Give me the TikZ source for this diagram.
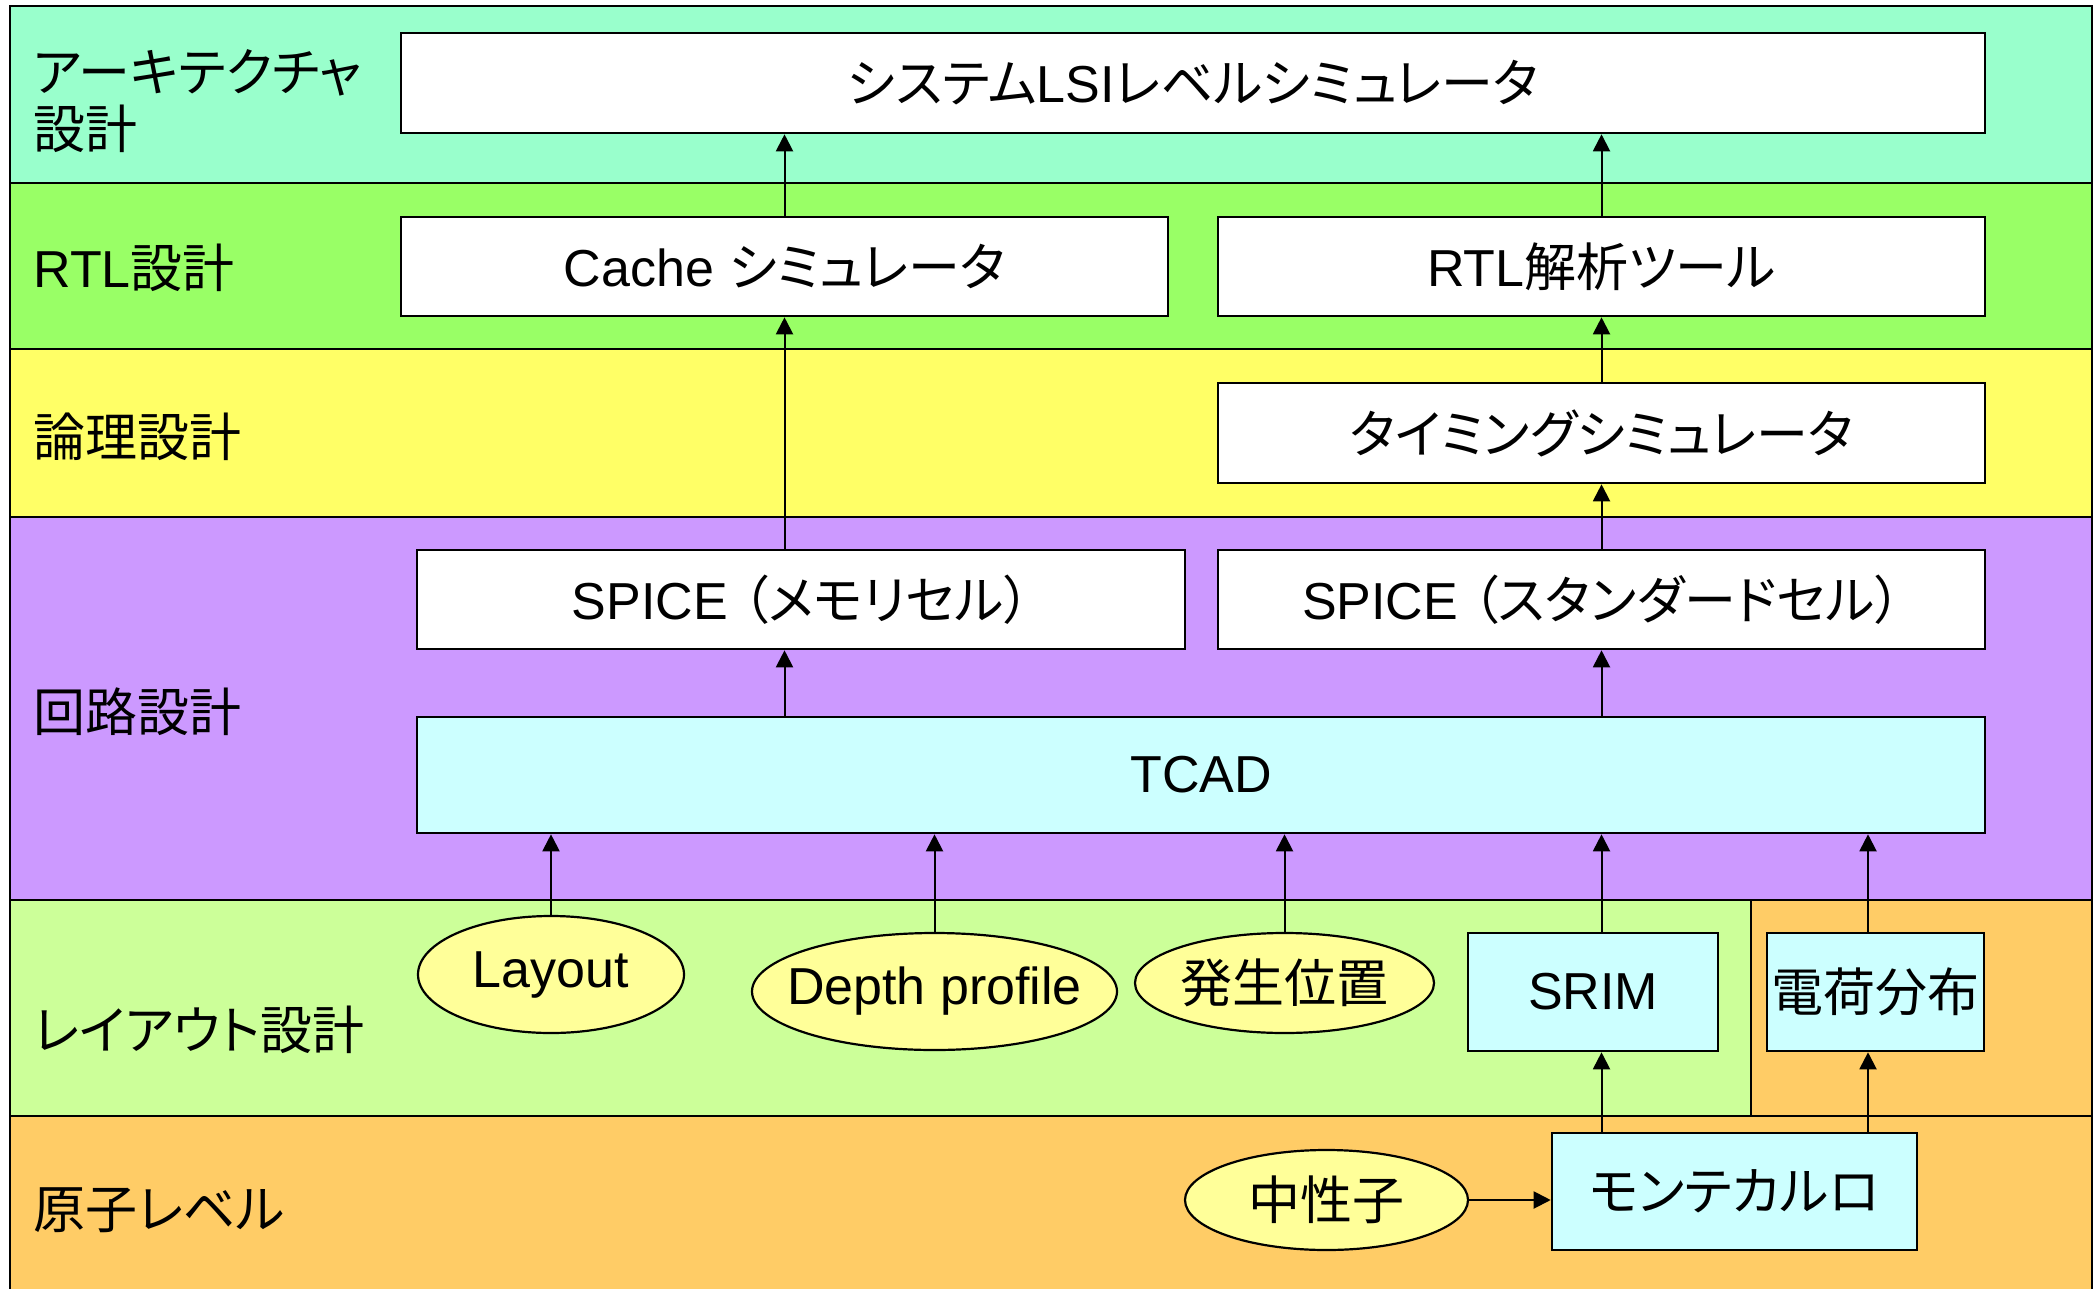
\documentclass[tikz,border=0pt]{standalone}
\usepackage{fontspec}
\setmainfont{Noto Sans CJK JP}[RawFeature={+palt}]
\newfontfamily\latfont{Liberation Sans}
\newcommand\lat[1]{{\latfont #1}}
\newcommand\zw[1]{\makebox[0pt]{\raisebox{-2.5pt}{#1}}}
\usetikzlibrary{arrows.meta,shapes.geometric}
\definecolor{archc}{HTML}{99FFCC}
\definecolor{rtlc}{HTML}{99FF66}
\definecolor{logicc}{HTML}{FFFF66}
\definecolor{circc}{HTML}{CC99FF}
\definecolor{layc}{HTML}{CCFF99}
\definecolor{atomc}{HTML}{FFCC66}
\definecolor{cyanbox}{HTML}{CCFFFF}
\definecolor{ellfill}{HTML}{FFFF99}
\begin{document}
\begin{tikzpicture}[x=0.5pt,y=-0.5pt,
  every node/.style={font=\fontsize{26pt}{28.5pt}\selectfont},
  band/.style={draw=black,line width=1.4pt},
  wbox/.style={draw=black,line width=1.3pt,fill=white,rectangle,inner sep=0pt},
  cbox/.style={draw=black,line width=1.3pt,fill=cyanbox,rectangle,inner sep=0pt},
  ell/.style={draw=black,line width=1.1pt,fill=ellfill,ellipse,inner sep=0pt},
  arr/.style={-{Triangle[length=8.5pt,width=8.5pt]},line width=1pt},
  lbl/.style={anchor=west,inner sep=0pt,align=left}]
\clip (0,0) rectangle (2098,1289);
\fill[white] (0,0) rectangle (2098,1289);
% bands
\path[band,fill=archc] (10,6) rectangle (2092,183);
\path[band,fill=rtlc] (10,183) rectangle (2092,349);
\path[band,fill=logicc] (10,349) rectangle (2092,517);
\path[band,fill=circc] (10,517) rectangle (2092,900);
\path[band,fill=layc] (10,900) rectangle (1751,1116);
\path[band,fill=atomc] (1751,900) rectangle (2092,1116);
\path[band,fill=atomc] (10,1116) rectangle (2092,1310);
% left labels
\node[lbl] (l1) at (33,101) {アーキテクチャ\\設計};
\node[lbl] (l2) at (33,268) {\lat{RTL}設計};
\node[lbl] (l3) at (33,437) {論理設計};
\node[lbl] (l4) at (33,712) {回路設計};
\node[lbl] (l5) at (33,1030) {レイアウト設計};
\node[lbl] (l6) at (33,1210) {原子レベル};
% boxes
\node[wbox,minimum width=792pt,minimum height=50pt] (sys) at (1193,83) {システム\lat{LSI}レベルシミュレータ};
\node[wbox,minimum width=383.5pt,minimum height=49.5pt] (cache) at (784.5,266.5) {\lat{Cache }シミュレータ};
\node[wbox,minimum width=383.5pt,minimum height=49.5pt] (rtl) at (1601.5,266.5) {\lat{RTL}解析ツール};
\node[wbox,minimum width=383.5pt,minimum height=50pt] (timing) at (1601.5,433) {タイミングシミュレータ};
\node[wbox,minimum width=384pt,minimum height=49.5pt] (spm) at (801,599.5) {\lat{SPICE }（メモリセル）};
\node[wbox,minimum width=383.5pt,minimum height=49.5pt] (sps) at (1601.5,599.5) {\lat{SPICE }（スタンダードセル）};
\node[cbox,minimum width=784pt,minimum height=58pt] (tcad) at (1201,775) {\lat{TCAD}};
\node[ell,minimum width=133pt,minimum height=58.5pt] (layout) at (551,974.5) {\zw{\lat{Layout}}};
\node[ell,minimum width=182.5pt,minimum height=58.5pt] (depth) at (934.5,991.5) {\zw{\lat{Depth profile}}};
\node[ell,minimum width=149.5pt,minimum height=50pt] (hassei) at (1284.5,983) {\zw{発生位置}};
\node[cbox,minimum width=125pt,minimum height=59pt] (srim) at (1593,992) {\lat{SRIM}};
\node[cbox,minimum width=108.5pt,minimum height=59pt] (denka) at (1875.5,992) {電荷分布};
\node[cbox,minimum width=182.5pt,minimum height=58.5pt] (monte) at (1734.5,1191.5) {モンテカルロ};
\node[ell,minimum width=141.5pt,minimum height=50pt] (neutron) at (1326.5,1200) {\zw{中性子}};
% arrows
\coordinate (dx) at (1868,0);
\draw[arr] (cache.north) -- (cache.north |- sys.south);
\draw[arr] (rtl.north) -- (rtl.north |- sys.south);
\draw[arr] (spm.north -| cache.south) -- (cache.south);
\draw[arr] (timing.north) -- (rtl.south);
\draw[arr] (sps.north) -- (timing.south);
\draw[arr] (tcad.north -| cache.south) -- (spm.south -| cache.south);
\draw[arr] (tcad.north -| sps.south) -- (sps.south);
\draw[arr] (layout.north) -- (layout.north |- tcad.south);
\draw[arr] (depth.north) -- (depth.north |- tcad.south);
\draw[arr] (hassei.north) -- (hassei.north |- tcad.south);
\draw[arr] (srim.north -| sps.south) -- (tcad.south -| sps.south);
\draw[arr] (denka.north -| dx) -- (tcad.south -| dx);
\draw[arr] (monte.north -| sps.south) -- (srim.south -| sps.south);
\draw[arr] (monte.north -| dx) -- (denka.south -| dx);
\draw[arr] (neutron.east) -- (monte.west |- neutron.east);
\end{tikzpicture}
\end{document}
